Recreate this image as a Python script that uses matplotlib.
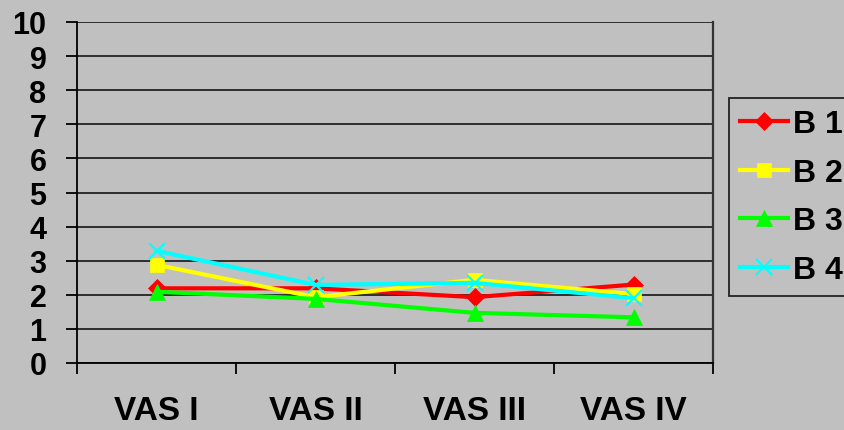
import matplotlib
matplotlib.use('Agg')
import matplotlib.pyplot as plt

categories = ["VAS I", "VAS II", "VAS III", "VAS IV"]
series_names = ["B 1", "B 2", "B 3", "B 4"]
b1 = [2.19, 2.19, 1.93, 2.3]
b2 = [2.88, 1.93, 2.44, 2.02]
b3 = [2.09, 1.88, 1.47, 1.34]
b4 = [3.29, 2.29, 2.35, 1.9]
y_ticks = list(range(0, 11))

BG = "#C0C0C0"


def main():
    plt.rcParams['font.family'] = ['Liberation Sans', 'DejaVu Sans']
    plt.rcParams['font.weight'] = 'bold'

    fig = plt.figure(figsize=(8.45, 4.31), dpi=100, facecolor=BG)
    ax = fig.add_axes([77 / 845, 67 / 431, 636 / 845, 341 / 431])
    ax.set_facecolor(BG)

    x = list(range(len(categories)))
    styles = [
        (b1, "#FF0000", "D", 9),
        (b2, "#FFFF00", "s", 10),
        (b3, "#00FF00", "^", 11),
        (b4, "#00FFFF", "x", 11),
    ]
    for (vals, color, marker, ms), name in zip(styles, series_names):
        ax.plot(x, vals, color=color, linewidth=3, marker=marker, markersize=ms,
                markeredgewidth=1.5 if marker == "x" else 0.5,
                markeredgecolor=color, label=name)

    ax.set_xlim(-0.5, len(categories) - 0.5)
    ax.set_ylim(0, 10)
    ax.set_yticks(y_ticks)
    ax.set_yticklabels([str(v) for v in y_ticks], fontsize=22, fontweight='bold')
    ax.yaxis.grid(True, color="#222222", linewidth=1.3)
    ax.set_axisbelow(True)

    # category labels centred, tick marks on the boundaries
    ax.set_xticks(x)
    ax.set_xticklabels(categories, fontsize=24, fontweight='bold')
    ax.tick_params(axis='x', which='major', length=0, pad=23)
    ax.set_xticks([i - 0.5 for i in range(len(categories) + 1)], minor=True)
    ax.tick_params(axis='x', which='minor', length=8, width=1.3, direction='out', color='black')
    ax.tick_params(axis='y', length=8, width=1.3, direction='out', pad=14, color='black')

    ax.spines['top'].set_visible(False)
    ax.spines['left'].set_color('black')
    ax.spines['left'].set_linewidth(1.3)
    ax.spines['bottom'].set_color('black')
    ax.spines['bottom'].set_linewidth(1.3)
    ax.spines['right'].set_color('#333333')
    ax.spines['right'].set_linewidth(1.6)

    leg = fig.legend(loc='upper left', bbox_to_anchor=(729 / 845, 1 - 99 / 431),
                     fontsize=23, frameon=True, fancybox=False, edgecolor='#222222',
                     facecolor=BG, framealpha=1, handlelength=1.5, handletextpad=0.15,
                     labelspacing=0.58, borderpad=0.35, borderaxespad=0)
    leg.get_frame().set_linewidth(1.3)
    for t in leg.get_texts():
        t.set_fontweight('bold')

    fig.savefig("out.png", dpi=100, facecolor=BG)
    plt.close(fig)


if __name__ == "__main__":
    main()
